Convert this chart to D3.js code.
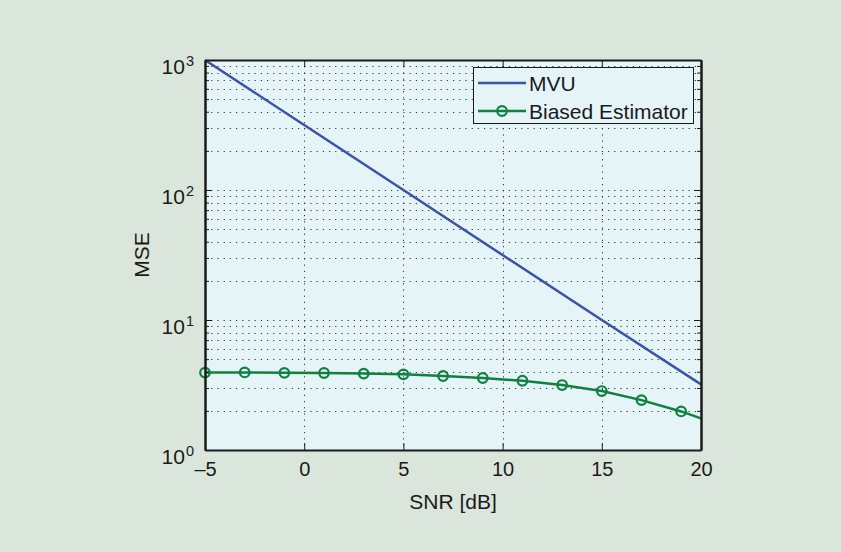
<!DOCTYPE html>
<html>
<head>
<meta charset="utf-8">
<script src="https://cdn.jsdelivr.net/npm/d3@7"></script>
<style>
  body { margin: 0; background: #dae6dc; }
  text { font-family: "Liberation Sans", Arial, sans-serif; fill: #1a1a1a; }
</style>
</head>
<body>
<div id="container"></div>
<script>
// DATA
const xTicks = [-5, 0, 5, 10, 15, 20]
const yTicks = [1, 10, 100, 1000]
const mvuSnr = [-5, 0, 5, 10, 15, 20]
const mvuMse = [1000, 316, 100, 31.6, 10, 3.2]
const biasedSnr = [-5, -3, -1, 1, 3, 5, 7, 9, 11, 13, 15, 17, 19, 20]
const biasedMse = [3.94, 3.95, 3.92, 3.91, 3.87, 3.82, 3.71, 3.58, 3.41, 3.16, 2.84, 2.42, 1.98, 1.75]
const seriesNames = ['MVU', 'Biased Estimator']

//BOX
const w = 841
const h = 552
const mLeft = 205, mRight = 701, mTop = 60, mBottom = 450
const blue = '#3b52a6'
const green = '#0f8040'
const plotBg = '#e5f4f7'
const font = '"Liberation Sans", Arial, sans-serif'

const x = d3.scaleLinear().domain([-5, 20]).range([mLeft, mRight])
const y = d3.scaleLog().domain([1, 1000]).range([mBottom, mTop])

// minor log values
let minor = []
for (let d = 0; d < 3; d++) {
    for (let k = 2; k <= 9; k++) minor.push(k * Math.pow(10, d))
}

const svg = d3.select('#container')
    .append('svg')
    .attr('width', w)
    .attr('height', h)

svg.append('rect').attr('width', w).attr('height', h).attr('fill', '#dae6dc')

svg.append('rect')
    .attr('x', mLeft).attr('y', mTop)
    .attr('width', mRight - mLeft).attr('height', mBottom - mTop)
    .attr('fill', plotBg)

//GRID
const grid = svg.append('g')
    .attr('stroke', '#333')
    .attr('stroke-width', 1)
    .attr('stroke-dasharray', '1.2,5')

grid.selectAll('.gy')
    .data(minor.concat([10, 100]))
    .enter()
    .append('line')
    .attr('x1', mLeft).attr('x2', mRight)
    .attr('y1', d => Math.round(y(d)) + 0.5)
    .attr('y2', d => Math.round(y(d)) + 0.5)

grid.selectAll('.gx')
    .data(xTicks.slice(1, -1))
    .enter()
    .append('line')
    .attr('x1', d => Math.round(x(d)) + 0.5)
    .attr('x2', d => Math.round(x(d)) + 0.5)
    .attr('y1', mTop).attr('y2', mBottom)

//LINES
const line = d3.line()
    .x(d => x(d[0]))
    .y(d => y(d[1]))

const mvuData = mvuSnr.map((s, i) => [s, mvuMse[i]])
const biasedData = biasedSnr.map((s, i) => [s, biasedMse[i]])

svg.append('path')
    .datum(mvuData)
    .attr('d', line)
    .attr('fill', 'none')
    .attr('stroke', blue)
    .attr('stroke-width', 2.5)

svg.append('path')
    .datum(biasedData)
    .attr('d', line)
    .attr('fill', 'none')
    .attr('stroke', green)
    .attr('stroke-width', 2.5)

svg.append('g')
    .selectAll('circle')
    .data(biasedData.filter(d => d[0] !== 20))
    .enter()
    .append('circle')
    .attr('cx', d => x(d[0]))
    .attr('cy', d => y(d[1]))
    .attr('r', 4.8)
    .attr('fill', 'none')
    .attr('stroke', green)
    .attr('stroke-width', 2.2)

//AXES
function styleAxis(g) {
    g.selectAll('.domain').attr('stroke', '#1a1a1a').attr('stroke-width', 2)
    g.selectAll('.tick line').attr('stroke', '#1a1a1a').attr('stroke-width', 1)
    g.selectAll('text').attr('fill', '#1a1a1a')
}

const xaxis = d3.axisBottom(x)
    .tickValues(xTicks)
    .tickSizeInner(-7)
    .tickSizeOuter(0)
    .tickPadding(11.5)
    .tickFormat(d => d < 0 ? '\u2013' + Math.abs(d) : d)

svg.append('g')
    .attr('transform', 'translate(0,' + mBottom + ')')
    .call(xaxis)
    .call(g => g.selectAll('text').style('font-size', '20px').style('font-family', font))
    .call(styleAxis)

svg.append('g')
    .attr('transform', 'translate(0,' + mTop + ')')
    .call(d3.axisTop(x).tickValues(xTicks).tickSizeInner(-7).tickSizeOuter(0).tickFormat(''))
    .call(styleAxis)

const yaxis = d3.axisLeft(y)
    .tickValues(yTicks)
    .tickSizeInner(-7)
    .tickSizeOuter(0)
    .tickFormat('')

const yg = svg.append('g')
    .attr('transform', 'translate(' + mLeft + ',0)')
    .call(yaxis)
    .call(styleAxis)

yg.selectAll('.tick')
    .append('text')
    .attr('x', -11)
    .attr('y', 13)
    .attr('text-anchor', 'end')
    .style('font-size', '21px')
    .style('font-family', font)
    .each(function(d) {
        const t = d3.select(this)
        t.append('tspan').text('10')
        t.append('tspan').attr('dy', -8).attr('dx', 1).style('font-size', '14.5px').text(Math.round(Math.log10(d)))
    })

svg.append('g')
    .attr('transform', 'translate(' + mLeft + ',0)')
    .call(d3.axisLeft(y).tickValues(minor).tickSizeInner(-4).tickSizeOuter(0).tickFormat(''))
    .call(styleAxis)

svg.append('g')
    .attr('transform', 'translate(' + mRight + ',0)')
    .call(d3.axisRight(y).tickValues(yTicks).tickSizeInner(-7).tickSizeOuter(0).tickFormat(''))
    .call(styleAxis)

svg.append('g')
    .attr('transform', 'translate(' + mRight + ',0)')
    .call(d3.axisRight(y).tickValues(minor).tickSizeInner(-4).tickSizeOuter(0).tickFormat(''))
    .call(styleAxis)

//AXIS LABELS
svg.append('text')
    .attr('x', (mLeft + mRight) / 2)
    .attr('y', 509)
    .attr('text-anchor', 'middle')
    .style('font-size', '21px')
    .text('SNR [dB]')

svg.append('text')
    .attr('transform', 'translate(149,' + ((mTop + mBottom) / 2) + ') rotate(-90)')
    .attr('text-anchor', 'middle')
    .style('font-size', '21px')
    .text('MSE')

//LEGEND
const lg = svg.append('g')
lg.append('rect')
    .attr('x', 473.5).attr('y', 67.5)
    .attr('width', 220).attr('height', 56)
    .attr('fill', plotBg)
    .attr('stroke', '#1a1a1a')
    .attr('stroke-width', 1)

const legendColors = [blue, green]
seriesNames.forEach((name, i) => {
    const cy = 83 + i * 28
    lg.append('line')
        .attr('x1', 478).attr('x2', 526)
        .attr('y1', cy).attr('y2', cy)
        .attr('stroke', legendColors[i])
        .attr('stroke-width', 2.5)
    if (i === 1) {
        lg.append('circle')
            .attr('cx', 502).attr('cy', cy).attr('r', 4.8)
            .attr('fill', 'none').attr('stroke', green).attr('stroke-width', 2.2)
    }
    lg.append('text')
        .attr('x', 529)
        .attr('y', cy + 7.5)
        .style('font-size', '21px')
        .text(name)
})
</script>
</body>
</html>
